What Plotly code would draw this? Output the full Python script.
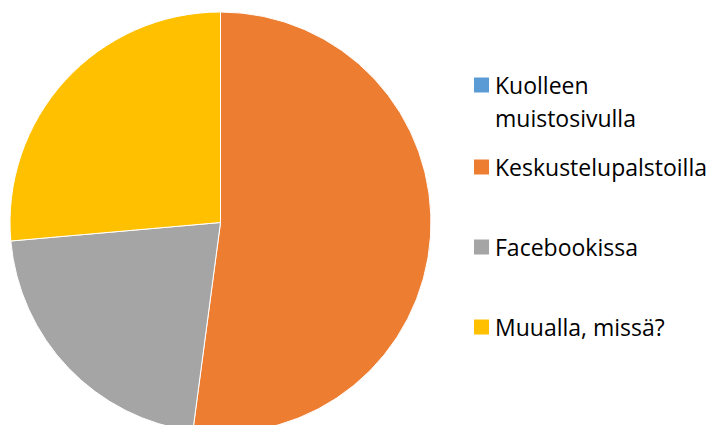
import plotly.graph_objects as go

labels = ["Kuolleen muistosivulla", "Keskustelupalstoilla", "Facebookissa", "Muualla, missä?"]
values = [0, 52.1, 21.5, 26.4]
colors = ["#5B9BD5", "#ED7D31", "#A5A5A5", "#FFC000"]

W, H = 712, 446
FONT = "Open Sans"
FS = 23
LINE_GAP = 33  # px between wrapped legend lines

fig = go.Figure(go.Pie(
    labels=labels,
    values=values,
    sort=False,
    direction="clockwise",
    rotation=0,
    textinfo="none",
    hoverinfo="label+percent",
    marker=dict(colors=colors, line=dict(color="white", width=1)),
    domain=dict(x=[10 / W, 431 / W], y=[(H - 433) / H, (H - 12) / H]),
    showlegend=False,
))

# legend: marker squares + text (long first label wrapped on two lines)
text_y = [85, 167, 247, 327]  # px from top, centre of first line of each entry
for lab, col, ty in zip(labels, colors, text_y):
    fig.add_shape(type="rect", xref="paper", yref="paper",
                  x0=474 / W, x1=489 / W, y0=(H - ty - 7.5) / H, y1=(H - ty + 7.5) / H,
                  fillcolor=col, line=dict(width=0))
    lines = lab.split(" ") if lab == labels[0] else [lab]
    for i, ln in enumerate(lines):
        fig.add_annotation(text=ln, xref="paper", yref="paper",
                           x=493 / W, y=(H - ty - i * LINE_GAP) / H,
                           xanchor="left", yanchor="middle",
                           align="left", showarrow=False,
                           font=dict(family=FONT, size=FS, color="#000000"))

fig.update_layout(
    width=W, height=H,
    margin=dict(l=0, r=0, t=0, b=0),
    paper_bgcolor="white", plot_bgcolor="white",
)

fig.write_html("out.html", config={"displayModeBar": False},
               post_script="document.documentElement.style.overflow='hidden';document.body.style.overflow='hidden';document.body.style.margin='0';")
